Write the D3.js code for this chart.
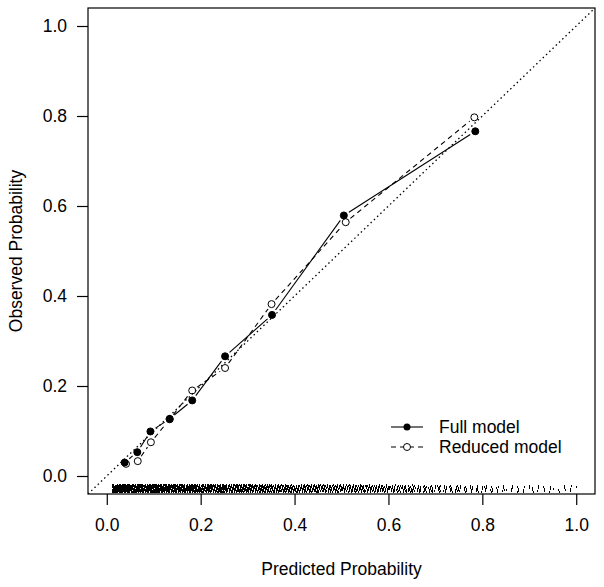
<!DOCTYPE html>
<html>
<head>
<meta charset="utf-8">
<script src="https://cdn.jsdelivr.net/npm/d3@7"></script>
<style>
  body { margin: 0; background: #fff; }
  svg { display: block; font-family: "Liberation Sans", Arial, sans-serif; }
</style>
</head>
<body>
<svg id="chart" width="604" height="587"></svg>
<script>
// ---- data ----
const fullX = [0.038, 0.065, 0.093, 0.134, 0.182, 0.252, 0.352, 0.505, 0.785];
const fullY = [0.030, 0.053, 0.099, 0.127, 0.168, 0.266, 0.358, 0.579, 0.766];
const redX  = [0.041, 0.066, 0.094, 0.134, 0.182, 0.252, 0.351, 0.509, 0.783];
const redY  = [0.027, 0.033, 0.075, 0.126, 0.190, 0.240, 0.382, 0.564, 0.797];
const xTicks = [0.0, 0.2, 0.4, 0.6, 0.8, 1.0];
const yTicks = [0.0, 0.2, 0.4, 0.6, 0.8, 1.0];
// rug of predicted probabilities: bin start, bin end, approx count (read from density)
const rugStart = [0.010, 0.05, 0.10, 0.15, 0.20, 0.25, 0.30, 0.35, 0.40, 0.45, 0.50, 0.55, 0.60, 0.65, 0.70, 0.75, 0.80, 0.85, 0.90, 0.95];
const rugEnd   = [0.05, 0.10, 0.15, 0.20, 0.25, 0.30, 0.35, 0.40, 0.45, 0.50, 0.55, 0.60, 0.65, 0.70, 0.75, 0.80, 0.85, 0.90, 0.95, 1.00];
const rugCount = [200, 260, 240, 220, 180, 150, 125, 105, 90, 78, 64, 54, 45, 38, 30, 24, 18, 14, 12, 10];
const rugYTop = -0.020, rugYBot = -0.036;
const legendLabels = ["Full model", "Reduced model"];

// ---- layout ----
const svg = d3.select("#chart");
const L = 88, R = 595, T = 8, B = 494;
const x = d3.scaleLinear().domain([-0.04, 1.04]).range([L, R]);
const y = d3.scaleLinear().domain([-0.04, 1.04]).range([B, T]);
const fs = 17.5;

// clip
svg.append("defs").append("clipPath").attr("id", "plotclip")
  .append("rect").attr("x", L).attr("y", T).attr("width", R - L).attr("height", B - T);

const plot = svg.append("g").attr("clip-path", "url(#plotclip)");

// diagonal reference line (dotted)
plot.append("line")
  .attr("x1", x(-0.04)).attr("y1", y(-0.04))
  .attr("x2", x(1.04)).attr("y2", y(1.04))
  .attr("stroke", "#000").attr("stroke-width", 1.3)
  .attr("stroke-dasharray", "1.5,3");

// rug dots
const rugPts = [];
rugCount.forEach((n, i) => {
  for (let j = 0; j < n; j++) {
    const u = (0.5 + (j + 1) * 0.7548776662 + i * 0.13) % 1;
    const v = (0.5 + (j + 1) * 0.5698402910 + i * 0.29) % 1;
    rugPts.push([rugStart[i] + u * (rugEnd[i] - rugStart[i]), rugYTop + v * (rugYBot - rugYTop)]);
  }
});
plot.append("g").attr("shape-rendering", "crispEdges")
  .selectAll("rect").data(rugPts).join("rect")
  .attr("x", d => Math.round(x(d[0])))
  .attr("y", d => Math.round(y(d[1]) - 1))
  .attr("width", 1).attr("height", 2).attr("fill", "#000");

// lines with gaps around points (type = "b")
function gappedSegments(xs, ys, gap) {
  const segs = [];
  for (let i = 0; i < xs.length - 1; i++) {
    const x1 = x(xs[i]), y1 = y(ys[i]), x2 = x(xs[i + 1]), y2 = y(ys[i + 1]);
    const len = Math.hypot(x2 - x1, y2 - y1);
    if (len <= 2 * gap) continue;
    const dx = (x2 - x1) / len, dy = (y2 - y1) / len;
    segs.push([x1 + dx * gap, y1 + dy * gap, x2 - dx * gap, y2 - dy * gap]);
  }
  return segs;
}
const gap = 6;
plot.append("g").selectAll("line").data(gappedSegments(fullX, fullY, gap)).join("line")
  .attr("x1", d => d[0]).attr("y1", d => d[1]).attr("x2", d => d[2]).attr("y2", d => d[3])
  .attr("stroke", "#000").attr("stroke-width", 1.1);
plot.append("g").selectAll("line").data(gappedSegments(redX, redY, gap)).join("line")
  .attr("x1", d => d[0]).attr("y1", d => d[1]).attr("x2", d => d[2]).attr("y2", d => d[3])
  .attr("stroke", "#000").attr("stroke-width", 1.1).attr("stroke-dasharray", "5,4");

// points
plot.append("g").selectAll("circle").data(redX.map((v, i) => [v, redY[i]])).join("circle")
  .attr("cx", d => x(d[0])).attr("cy", d => y(d[1])).attr("r", 3.5)
  .attr("fill", "none").attr("stroke", "#000").attr("stroke-width", 1);
plot.append("g").selectAll("circle").data(fullX.map((v, i) => [v, fullY[i]])).join("circle")
  .attr("cx", d => x(d[0])).attr("cy", d => y(d[1])).attr("r", 3.5)
  .attr("fill", "#000").attr("stroke", "#000").attr("stroke-width", 1);

// frame
svg.append("rect").attr("x", L).attr("y", T).attr("width", R - L).attr("height", B - T)
  .attr("fill", "none").attr("stroke", "#000").attr("stroke-width", 1.2);

// axes
const xAxis = svg.append("g").attr("transform", `translate(0,${B})`)
  .call(d3.axisBottom(x).tickValues(xTicks).tickFormat(d3.format(".1f")).tickSize(11).tickPadding(14));
const yAxis = svg.append("g").attr("transform", `translate(${L},0)`)
  .call(d3.axisLeft(y).tickValues(yTicks).tickFormat(d3.format(".1f")).tickSize(11).tickPadding(10));
[xAxis, yAxis].forEach(a => {
  a.select(".domain").remove();
  a.selectAll(".tick line").attr("stroke", "#000").attr("stroke-width", 1.2);
  a.selectAll(".tick text").attr("fill", "#000").attr("font-size", fs)
    .attr("font-family", '"Liberation Sans", Arial, sans-serif');
});

// axis titles
svg.append("text").attr("x", (L + R) / 2).attr("y", 574.5).attr("text-anchor", "middle")
  .attr("font-size", fs).attr("fill", "#000").text("Predicted Probability");
svg.append("text").attr("transform", `translate(21.5,${(T + B) / 2}) rotate(-90)`)
  .attr("text-anchor", "middle").attr("font-size", fs).attr("fill", "#000").text("Observed Probability");

// legend
const lg = svg.append("g");
const legY = [427, 447];
const lx1 = 391, lx2 = 423, lpx = 407, ltx = 439;
lg.append("line").attr("x1", lx1).attr("x2", lx2).attr("y1", legY[0]).attr("y2", legY[0])
  .attr("stroke", "#000").attr("stroke-width", 1.1);
lg.append("circle").attr("cx", lpx).attr("cy", legY[0]).attr("r", 3.5).attr("fill", "#000");
lg.append("line").attr("x1", lx1).attr("x2", lx2).attr("y1", legY[1]).attr("y2", legY[1])
  .attr("stroke", "#000").attr("stroke-width", 1.1).attr("stroke-dasharray", "5,4");
lg.append("circle").attr("cx", lpx).attr("cy", legY[1]).attr("r", 3.5).attr("fill", "#fff")
  .attr("stroke", "#000").attr("stroke-width", 1);
lg.selectAll("text.lab").data(legendLabels).join("text").attr("class", "lab")
  .attr("x", ltx).attr("y", (d, i) => legY[i]).attr("dy", "0.35em")
  .attr("font-size", fs).attr("fill", "#000").text(d => d);
</script>
</body>
</html>
